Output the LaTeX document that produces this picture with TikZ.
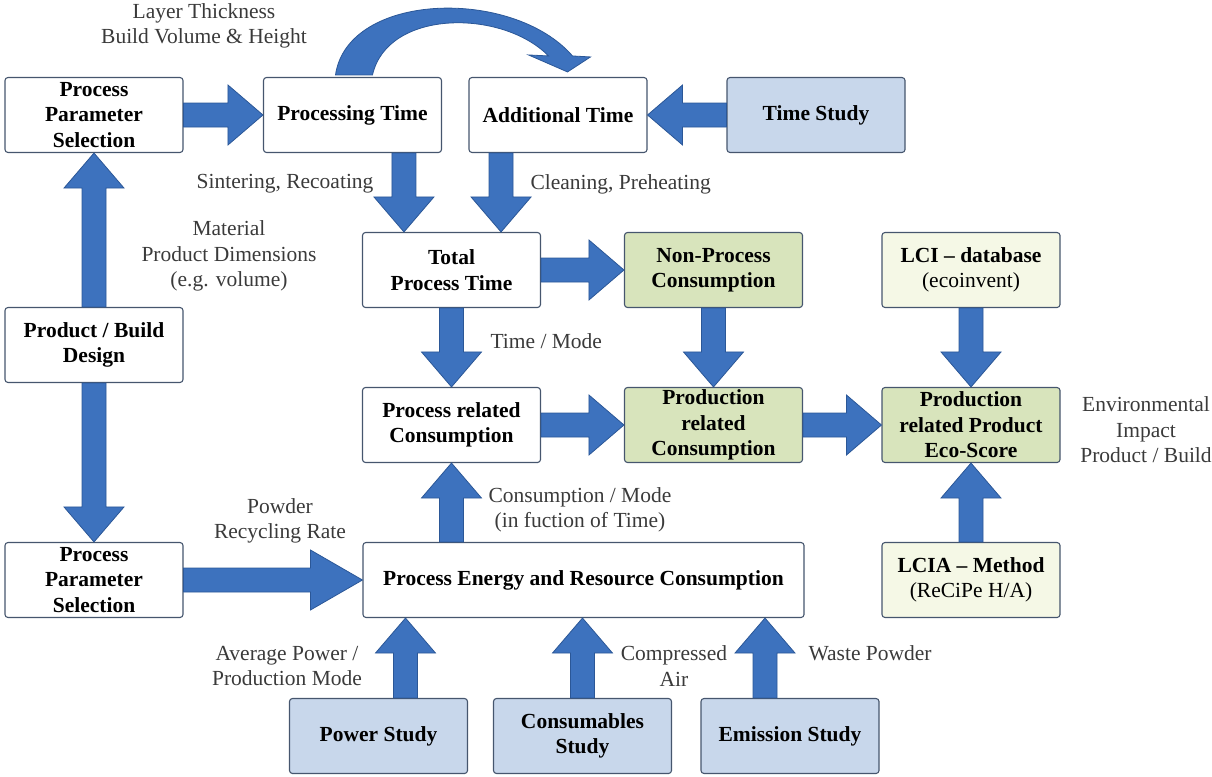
\documentclass[tikz,border=0pt]{standalone}
\usepackage{fontspec}
\setmainfont{Liberation Serif}
\usetikzlibrary{calc}
\definecolor{flowblue}{HTML}{3D72BE}
\definecolor{flowedge}{HTML}{2B5797}
\definecolor{boxedge}{HTML}{46566E}
\definecolor{studyblue}{HTML}{C8D7EB}
\definecolor{resgreen}{HTML}{D8E4BC}
\definecolor{dbyellow}{HTML}{F5F8E6}
\definecolor{labelgray}{HTML}{3A3A3A}
% block arrow from #2 to #3, head length #1
\newcommand{\blockflow}[3][35pt]{%
  \filldraw[flowarrow] ($#2!12pt!90:#3$) -- ($#3!#1!#2!12pt!90:#3$) -- ($#3!#1!#2!30pt!90:#3$) -- #3
    -- ($#3!#1!#2!30pt!-90:#3$) -- ($#3!#1!#2!12pt!-90:#3$) -- ($#2!12pt!-90:#3$) -- cycle;}
\begin{document}
\begin{tikzpicture}[x=1pt, y=1pt, line join=round,
	box/.style={draw=boxedge, line width=1.1pt, rounded corners=3pt, fill=white, minimum width=178pt, minimum height=75pt, inner sep=2pt, align=center, font=\fontsize{21.5}{25.5}\selectfont\bfseries},
	study/.style={box, fill=studyblue},
	result/.style={box, fill=resgreen},
	dbase/.style={box, fill=dbyellow},
	note/.style={align=center, text=labelgray, font=\fontsize{21.5}{25.5}\selectfont},
	flowarrow/.style={fill=flowblue, draw=flowedge, line width=0.8pt, line join=miter}]
	\useasboundingbox (0,0) rectangle (1212,-776);
	% boxes
	\node[box] (pps1) at (94,-115) {Process\\Parameter\\Selection};
	\node[box] (ptime) at (352.5,-115) {Processing Time};
	\node[box] (atime) at (558,-115) {Additional Time};
	\node[study] (tstudy) at (816,-115) {Time Study};
	\node[box] (total) at (451.5,-270) {Total\\Process Time};
	\node[result] (nonproc) at (713.5,-270) {Non-Process\\Consumption};
	\node[dbase] (lci) at (971,-270) {LCI -- database\\{\mdseries(ecoinvent)}};
	\node[box] (prod) at (94,-345) {Product / Build\\Design};
	\node[box] (procrel) at (451.5,-425) {Process related\\Consumption};
	\node[result] (prodrel) at (713.5,-425) {Production\\related\\Consumption};
	\node[result] (eco) at (971,-425) {Production\\related Product\\Eco-Score};
	\node[box] (pps2) at (94,-580) {Process\\Parameter\\Selection};
	\node[box, minimum width=441pt] (pe) at (583.5,-580) {Process Energy and Resource Consumption};
	\node[dbase] (lcia) at (971,-580) {LCIA -- Method\\{\mdseries(ReCiPe H/A)}};
	\node[study] (power) at (378.5,-736) {Power Study};
	\node[study] (cons) at (582.5,-736) {Consumables\\Study};
	\node[study] (emis) at (790,-736) {Emission Study};
	% anchor points off the centre lines
	\coordinate (t1) at ([xshift=42pt]total.north west);
	\coordinate (t2) at ([xshift=-40pt]total.north east);
	\coordinate (pw) at ([xshift=27pt]power.north);
	\coordinate (em) at ([xshift=-25pt]emis.north);
	% arrows
	\blockflow{(pps1.east)}{(ptime.west)}
	\blockflow{(tstudy.west)}{(atime.east)}
	\blockflow{(ptime.south -| t1)}{(t1)}
	\blockflow{(atime.south -| t2)}{(t2)}
	\blockflow{(total.east)}{(nonproc.west)}
	\blockflow{(total.south)}{(procrel.north)}
	\blockflow{(nonproc.south)}{(prodrel.north)}
	\blockflow{(lci.south)}{(eco.north)}
	\blockflow{(procrel.east)}{(prodrel.west)}
	\blockflow{(prodrel.east)}{(eco.west)}
	\blockflow{(lcia.north)}{(eco.south)}
	\blockflow{(procrel.south |- pe.north)}{(procrel.south)}
	\blockflow{(prod.north)}{(pps1.south)}
	\blockflow{(prod.south)}{(pps2.north)}
	\blockflow[52pt]{(pps2.east)}{(pe.west)}
	\blockflow{(pw)}{(pw |- pe.south)}
	\blockflow{(cons.north)}{(cons.north |- pe.south)}
	\blockflow{(em)}{(em |- pe.south)}
	% curved arrow over the top
	\coordinate (cs) at (ptime.north);
	\filldraw[flowarrow] ($(cs)+(-17,2)$) .. controls ($(cs)+(-5,85)$) and ($(cs)+(160,90)$) .. ($(cs)+(220,21)$)
		-- ($(cs)+(238,20)$) -- ($(cs)+(215,5)$) -- ($(cs)+(176,22)$) -- ($(cs)+(196,21)$)
		.. controls ($(cs)+(150,68)$) and ($(cs)+(35,68)$) .. ($(cs)+(20,2)$) -- cycle;
	% labels
	\node[note] (lay) at (204,-26) {Layer Thickness\\Build Volume \& Height};
	\node[note, anchor=east] (sint) at (377,-184) {Sintering, Recoating};
	\node[note, anchor=west] (clean) at (527,-184) {Cleaning, Preheating};
	\node[note] (mat) at (229,-256) {Material\\Product Dimensions\\(e.g. volume)};
	\node[note, anchor=west] (tm) at (487,-341) {Time / Mode};
	\node[note] (env) at (1146,-430) {Environmental\\Impact\\Product / Build};
	\node[note] (cm) at (580,-510) {Consumption / Mode\\(in fuction of Time)};
	\node[note] (pow) at (280,-521) {Powder\\Recycling Rate};
	\node[note] (avg) at (287,-666) {Average Power /\\Production Mode};
	\node[note] (comp) at (674,-666) {Compressed\\Air};
	\node[note, anchor=west] (waste) at (805,-653) {Waste Powder};
\end{tikzpicture}
\end{document}
